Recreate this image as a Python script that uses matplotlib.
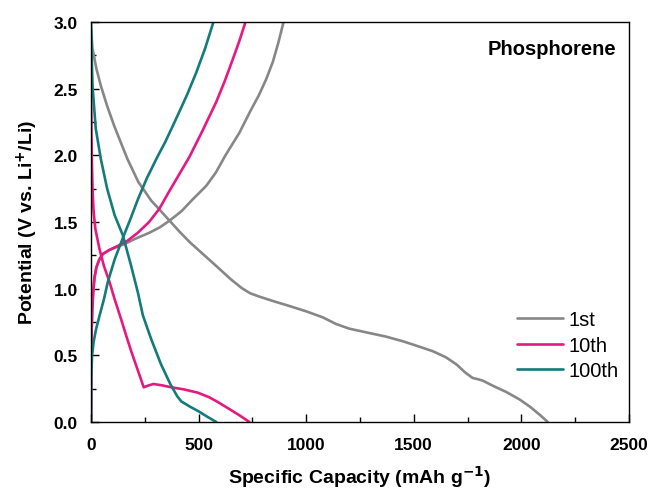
import matplotlib
matplotlib.use("Agg")
import matplotlib.pyplot as plt
from matplotlib.ticker import MultipleLocator, FormatStrFormatter

plt.rcParams['font.family'] = ['Liberation Sans', 'DejaVu Sans']

# Galvanostatic discharge/charge profiles (capacity in mAh/g, potential in V)
cap_1st_dis = [0, 7, 25, 46, 75, 108, 140, 170, 220, 280, 320, 365, 410, 458, 520,
               582, 650, 700, 740, 783, 850, 922, 1000, 1077, 1139, 1200, 1300, 1372,
               1450, 1526, 1590, 1650, 1700, 1740, 1774, 1800, 1821, 1870, 1930, 1991,
               2040, 2085, 2123]
v_1st_dis = [2.95, 2.80, 2.65, 2.52, 2.37, 2.22, 2.09, 1.97, 1.80, 1.66, 1.59, 1.51,
             1.43, 1.35, 1.26, 1.17, 1.07, 1.005, 0.965, 0.94, 0.905, 0.87, 0.83,
             0.785, 0.735, 0.70, 0.665, 0.64, 0.605, 0.565, 0.53, 0.485, 0.43, 0.37,
             0.33, 0.32, 0.31, 0.27, 0.225, 0.17, 0.115, 0.055, 0.0]
cap_1st_chg = [0, 1, 3, 6, 10, 16, 25, 39, 55, 85, 124, 156, 200, 272, 320, 365, 420,
               473, 535, 580, 625, 690, 740, 780, 814, 845, 870, 895]
v_1st_chg = [0.0, 0.4, 0.7, 0.85, 0.97, 1.08, 1.16, 1.22, 1.26, 1.29, 1.315, 1.335,
             1.37, 1.42, 1.46, 1.51, 1.58, 1.67, 1.77, 1.87, 2.0, 2.17, 2.33, 2.45,
             2.57, 2.70, 2.84, 3.0]

cap_10th_dis = [0, 1, 2, 4, 7, 12, 20, 39, 60, 86, 110, 140, 165, 187, 215, 245, 260,
                290, 330, 373, 430, 496, 550, 589, 640, 690, 736]
v_10th_dis = [2.55, 2.35, 2.15, 1.95, 1.75, 1.58, 1.45, 1.30, 1.17, 1.05, 0.92, 0.77,
              0.64, 0.53, 0.40, 0.26, 0.27, 0.285, 0.275, 0.26, 0.245, 0.22, 0.185,
              0.15, 0.10, 0.05, 0.0]
cap_10th_chg = [0, 1, 3, 6, 10, 16, 25, 39, 55, 85, 124, 170, 218, 270, 318, 360, 400,
                458, 520, 582, 620, 659, 690, 718]
v_10th_chg = [0.0, 0.4, 0.7, 0.85, 0.97, 1.08, 1.16, 1.22, 1.26, 1.29, 1.32, 1.36,
              1.42, 1.50, 1.60, 1.72, 1.83, 1.99, 2.19, 2.40, 2.55, 2.72, 2.86, 3.0]

cap_100th_dis = [0, 3, 7, 22, 46, 75, 110, 148, 185, 218, 241, 280, 326, 370, 400, 419,
                 460, 500, 540, 582]
v_100th_dis = [3.0, 2.75, 2.52, 2.20, 1.97, 1.75, 1.55, 1.40, 1.18, 0.97, 0.80, 0.62,
               0.43, 0.28, 0.195, 0.155, 0.115, 0.08, 0.04, 0.0]
cap_100th_chg = [0, 1, 5, 12, 24, 40, 60, 78, 110, 148, 185, 218, 260, 309, 345, 380,
                 420, 448, 489, 530, 569]
v_100th_chg = [0.0, 0.35, 0.5, 0.6, 0.70, 0.80, 0.92, 1.05, 1.22, 1.38, 1.53, 1.67,
               1.83, 1.99, 2.10, 2.22, 2.36, 2.46, 2.62, 2.80, 3.0]

labels = ["1st", "10th", "100th"]
colors = ["#878787", "#e5197f", "#137c7b"]

fig = plt.figure(figsize=(6.51, 4.89), dpi=100)
ax = fig.add_axes([0.1398, 0.135, 0.8262, 0.818])

lw = 1.9
style = dict(lw=lw, solid_joinstyle='round', solid_capstyle='round')
ax.plot(cap_1st_dis, v_1st_dis, color=colors[0], label=labels[0], **style)
ax.plot(cap_1st_chg, v_1st_chg, color=colors[0], **style)
ax.plot(cap_10th_dis, v_10th_dis, color=colors[1], label=labels[1], **style)
ax.plot(cap_10th_chg, v_10th_chg, color=colors[1], **style)
ax.plot(cap_100th_dis, v_100th_dis, color=colors[2], label=labels[2], **style)
ax.plot(cap_100th_chg, v_100th_chg, color=colors[2], **style)

ax.set_xlim(0, 2500)
ax.set_ylim(0, 3.0)
ax.xaxis.set_major_locator(MultipleLocator(500))
ax.xaxis.set_minor_locator(MultipleLocator(250))
ax.yaxis.set_major_locator(MultipleLocator(0.5))
ax.yaxis.set_minor_locator(MultipleLocator(0.25))
ax.yaxis.set_major_formatter(FormatStrFormatter('%.1f'))
ax.tick_params(which='both', direction='in', top=False, right=False, width=1.0)
ax.tick_params(which='major', length=6, labelsize=12.5)
ax.tick_params(axis='x', which='major', pad=11)
ax.tick_params(axis='y', which='major', pad=9.5)
ax.tick_params(which='minor', length=3.5)
for lbl in ax.get_xticklabels() + ax.get_yticklabels():
    lbl.set_fontweight('bold')
for sp in ax.spines.values():
    sp.set_linewidth(1.0)

ax.set_xlabel("Specific Capacity (mAh g$^{\\mathbf{-1}}$)", fontsize=14,
              fontweight='bold', labelpad=8)
ax.set_ylabel("Potential (V vs. Li$^{\\mathbf{+}}$/Li)", fontsize=14,
              fontweight='bold', labelpad=10)

ax.text(0.976, 0.9325, "Phosphorene", transform=ax.transAxes, ha='right',
        va='center', fontsize=14.5, fontweight='bold')

leg = ax.legend(loc='upper left', bbox_to_anchor=(0.792, 0.28), frameon=False,
                fontsize=14.5, handlelength=2.3, handletextpad=0.25,
                labelspacing=0.33, borderaxespad=0, borderpad=0)

fig.savefig("out.png", dpi=100)
